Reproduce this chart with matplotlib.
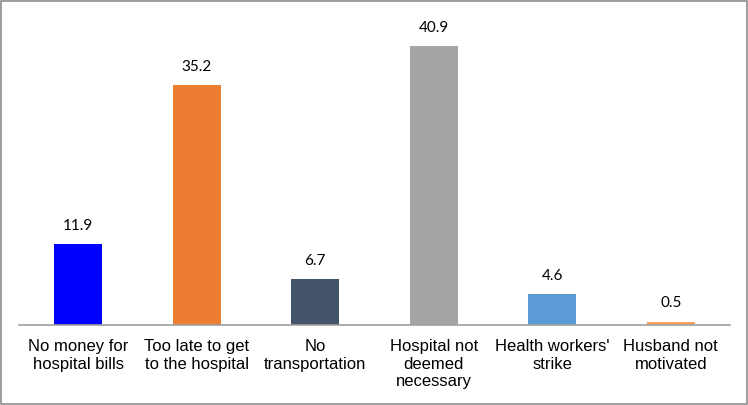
import matplotlib
matplotlib.use("Agg")
import matplotlib.pyplot as plt
from matplotlib.patches import Rectangle

categories = ["No money for\nhospital bills", "Too late to get\nto the hospital", "No\ntransportation",
              "Hospital not\ndeemed\nnecessary", "Health workers'\nstrike", "Husband not\nmotivated"]
values = [11.9, 35.2, 6.7, 40.9, 4.6, 0.5]
colors = ["#0000FF", "#ED7D31", "#44546A", "#A5A5A5", "#5B9BD5", "#F4A15D"]

fig = plt.figure(figsize=(7.48, 4.05), dpi=100)
ax = fig.add_axes([19/748, 80/405, 711/748, 310/405])
x = list(range(len(values)))
bars = ax.bar(x, values, width=0.405, color=colors)
ax.set_xlim(-0.5, len(values) - 0.5)
ax.set_ylim(0, 310/6.82)
for b, v in zip(bars, values):
    ax.annotate(f"{v}", (b.get_x() + b.get_width()/2, v), xytext=(0, 8), textcoords="offset points",
                ha="center", va="bottom", fontsize=11, family="Lato", color="#000000")
ax.set_xticks(x)
ax.set_xticklabels(categories, fontsize=12, family="Liberation Sans", linespacing=1.22)
ax.tick_params(axis="x", length=0, pad=10)
ax.set_yticks([])
for s in ["top", "right", "left"]:
    ax.spines[s].set_visible(False)
ax.spines["bottom"].set_color("#A0A0A0")
ax.spines["bottom"].set_linewidth(1.2)
fig.patches.append(Rectangle((0.001, 0.002), 0.997, 0.996, transform=fig.transFigure,
                             fill=False, edgecolor="#8C8C8C", linewidth=1.2))
fig.savefig("out.png", dpi=100)
